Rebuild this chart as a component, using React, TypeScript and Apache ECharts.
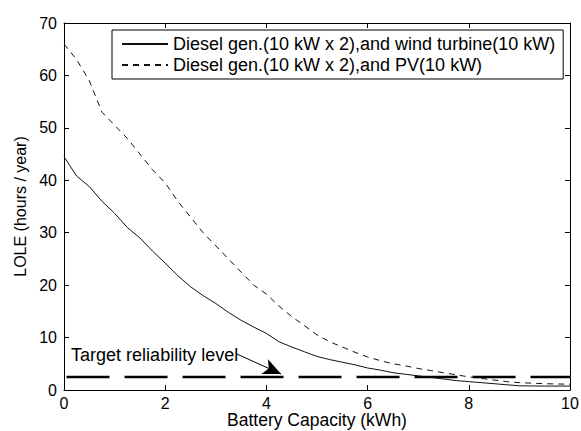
import React, { useEffect, useRef } from "react";
import * as echarts from "echarts";

const batteryCapacity = [0, 0.25, 0.5, 0.75, 1, 1.25, 1.5, 1.75, 2, 2.25, 2.5, 2.75, 3, 3.25, 3.5, 3.75, 4, 4.25, 4.5, 4.75, 5, 5.25, 5.5, 5.75, 6, 6.25, 6.5, 6.75, 7, 7.25, 7.5, 7.75, 8, 8.25, 8.5, 8.75, 9, 9.5, 10];
const windLOLE = [44.5, 40.8, 38.8, 36, 33.7, 31, 29, 26.5, 24.2, 21.8, 19.7, 18, 16.5, 14.8, 13.3, 12, 10.8, 9.2, 8.2, 7.3, 6.4, 5.8, 5.3, 4.8, 4.2, 3.8, 3.3, 3.0, 2.7, 2.4, 2.1, 1.8, 1.6, 1.4, 1.2, 1.0, 0.8, 0.75, 0.75];
const pvLOLE = [66, 63, 59, 53, 50.5, 48, 45, 42, 39.5, 36, 33, 30, 27.5, 25, 22.5, 20, 18.3, 16, 14, 12.3, 10.5, 9.2, 8.2, 7.2, 6.3, 5.6, 5.0, 4.6, 4.1, 3.7, 3.3, 2.9, 2.5, 2.2, 1.9, 1.6, 1.4, 1.2, 1.1];
const targetLevel = 2.5;
const targetRange = [0.05, 10];
const seriesNames = [
  "Diesel gen.(10 kW x 2),and wind turbine(10 kW)",
  "Diesel gen.(10 kW x 2),and PV(10 kW)",
];
const annotationText = "Target reliability level";
const annotationTextAt = [0.14, 6.7];
const arrowFrom = [3.42, 6.85];
const arrowTo = [4.29, 3.05];

const FONT = "Liberation Sans, Arial, sans-serif";

export default function App() {
  const ref = useRef<HTMLDivElement>(null);
  useEffect(() => {
    if (!ref.current) return;
    const chart = echarts.init(ref.current, undefined, { renderer: "svg" });
    const axisCommon = {
      axisLine: { show: true, onZero: false, lineStyle: { color: "#000", width: 1 } },
      axisTick: { show: true, inside: true, length: 5, lineStyle: { color: "#000" } },
      splitLine: { show: false },
    };
    chart.setOption({
      animation: false,
      backgroundColor: "#fff",
      textStyle: { fontFamily: FONT, color: "#000" },
      grid: { left: 64, right: 11, top: 23, bottom: 41, containLabel: false, outerBoundsMode: "none" },
      legend: {
        data: seriesNames,
        orient: "vertical",
        left: 112,
        top: 30,
        padding: [5, 8, 5, 9],
        itemGap: 3,
        itemWidth: 46,
        itemHeight: 14,
        borderColor: "#000",
        borderWidth: 1,
        backgroundColor: "#fff",
        selectedMode: false,
        itemStyle: { opacity: 0 },
        textStyle: { fontFamily: FONT, fontSize: 18, color: "#000", padding: [0, 0, 0, 0] },
      },
      xAxis: [
        {
          type: "value",
          min: 0,
          max: 10,
          interval: 2,
          position: "bottom",
          name: "Battery Capacity (kWh)",
          nameLocation: "middle",
          nameGap: 21,
          nameMoveOverlap: false,
          nameTextStyle: { fontFamily: FONT, fontSize: 17.5, color: "#000" },
          axisLabel: { fontFamily: FONT, fontSize: 16, color: "#000", margin: 5 },
          ...axisCommon,
        },
        {
          type: "value",
          min: 0,
          max: 10,
          interval: 2,
          position: "top",
          axisLabel: { show: false },
          ...axisCommon,
        },
      ],
      yAxis: [
        {
          type: "value",
          min: 0,
          max: 70,
          interval: 10,
          position: "left",
          name: "LOLE (hours / year)",
          nameLocation: "middle",
          nameGap: 34,
          nameTextStyle: { fontFamily: FONT, fontSize: 16, color: "#000" },
          axisLabel: { fontFamily: FONT, fontSize: 16, color: "#000", margin: 7 },
          ...axisCommon,
        },
        {
          type: "value",
          min: 0,
          max: 70,
          interval: 10,
          position: "right",
          axisLabel: { show: false },
          ...axisCommon,
        },
      ],
      series: [
        {
          name: seriesNames[0],
          type: "line",
          data: batteryCapacity.map((x, i) => [x, windLOLE[i]]),
          symbol: "none",
          lineStyle: { color: "#111", width: 1, type: "solid" },
          itemStyle: { color: "#111" },
          z: 3,
        },
        {
          name: seriesNames[1],
          type: "line",
          data: batteryCapacity.map((x, i) => [x, pvLOLE[i]]),
          symbol: "none",
          lineStyle: { color: "#111", width: 1, type: [6, 5] },
          itemStyle: { color: "#111" },
          z: 3,
        },
        {
          name: "target",
          type: "line",
          data: targetRange.map((x) => [x, targetLevel]),
          symbol: "none",
          lineStyle: { color: "#000", width: 2.5, type: [43, 15] },
          z: 2,
          markLine: {
            silent: true,
            symbol: ["none", "arrow"],
            symbolSize: [12, 18],
            label: { show: false },
            lineStyle: { color: "#000", width: 1, type: "solid" },
            data: [[{ coord: arrowFrom }, { coord: arrowTo }]],
          },
          markPoint: {
            silent: true,
            symbol: "circle",
            symbolSize: 0,
            data: [
              {
                coord: annotationTextAt,
                label: {
                  show: true,
                  position: "right",
                  distance: 0,
                  formatter: annotationText,
                  fontFamily: FONT,
                  fontSize: 18,
                  color: "#000",
                },
              },
            ],
          },
        },
      ],
    });
    return () => chart.dispose();
  }, []);
  return <div ref={ref} style={{ width: 581, height: 431, position: "absolute", left: 0, top: 0 }} />;
}
